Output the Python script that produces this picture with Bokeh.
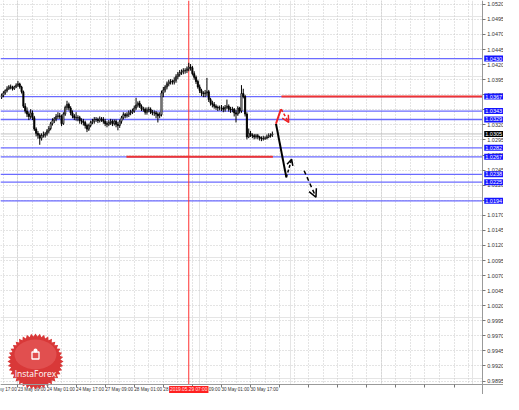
import numpy as np
from bokeh.plotting import figure
from bokeh.models import (FixedTicker, Label, Arrow, OpenHead, ColumnDataSource, Range1d,
                          LinearAxis, Grid)
from bokeh.core.properties import value
from bokeh.embed import file_html
from bokeh.resources import INLINE

# ---- data (EUR/USD H1, hours counted in trading hours from 23 May 09:00) ----
hours = list(range(-9, 141))
first_open = 1.0366
closes = [
    1.0369, 1.0373, 1.0377, 1.0380, 1.0383, 1.0383, 1.0380, 1.0383,
    1.0386, 1.0388, 1.0383, 1.0375, 1.0351, 1.0343, 1.0338, 1.0334,
    1.0340, 1.0332, 1.0313, 1.0306, 1.0303, 1.0298, 1.0302, 1.0303,
    1.0305, 1.0310, 1.0314, 1.0322, 1.0327, 1.0330, 1.0334, 1.0335,
    1.0334, 1.0322, 1.0338, 1.0349, 1.0354, 1.0348, 1.0340, 1.0335,
    1.0332, 1.0332, 1.0332, 1.0327, 1.0326, 1.0324, 1.0319, 1.0313,
    1.0319, 1.0324, 1.0326, 1.0329, 1.0329, 1.0327, 1.0330, 1.0329,
    1.0326, 1.0322, 1.0321, 1.0324, 1.0326, 1.0322, 1.0326, 1.0321,
    1.0319, 1.0326, 1.0332, 1.0337, 1.0335, 1.0337, 1.0340, 1.0341,
    1.0343, 1.0348, 1.0353, 1.0356, 1.0351, 1.0346, 1.0346, 1.0341,
    1.0345, 1.0346, 1.0341, 1.0340, 1.0340, 1.0338, 1.0335, 1.0337,
    1.0373, 1.0378, 1.0383, 1.0388, 1.0391, 1.0392, 1.0391, 1.0394,
    1.0400, 1.0404, 1.0407, 1.0408, 1.0410, 1.0410, 1.0413, 1.0416,
    1.0415, 1.0405, 1.0399, 1.0392, 1.0383, 1.0377, 1.0373, 1.0372,
    1.0373, 1.0375, 1.0362, 1.0356, 1.0354, 1.0351, 1.0349, 1.0348,
    1.0348, 1.0348, 1.0346, 1.0349, 1.0351, 1.0346, 1.0345, 1.0346,
    1.0340, 1.0338, 1.0348, 1.0343, 1.0372, 1.0367, 1.0338, 1.0300,
    1.0306, 1.0303, 1.0302, 1.0300, 1.0302, 1.0300, 1.0298, 1.0297,
    1.0298, 1.0298, 1.0300, 1.0302, 1.0303, 1.0305,
]
highs = [
    1.0372, 1.0376, 1.0379, 1.0384, 1.0386, 1.0387, 1.0385, 1.0385,
    1.0389, 1.0393, 1.0390, 1.0385, 1.0377, 1.0356, 1.0349, 1.0342,
    1.0346, 1.0344, 1.0335, 1.0316, 1.0310, 1.0306, 1.0306, 1.0309,
    1.0308, 1.0313, 1.0318, 1.0325, 1.0331, 1.0333, 1.0338, 1.0341,
    1.0340, 1.0337, 1.0341, 1.0352, 1.0360, 1.0357, 1.0351, 1.0344,
    1.0338, 1.0341, 1.0336, 1.0335, 1.0331, 1.0330, 1.0327, 1.0322,
    1.0322, 1.0327, 1.0330, 1.0333, 1.0333, 1.0332, 1.0334, 1.0333,
    1.0333, 1.0330, 1.0326, 1.0328, 1.0330, 1.0329, 1.0329, 1.0329,
    1.0325, 1.0329, 1.0335, 1.0341, 1.0340, 1.0341, 1.0344, 1.0345,
    1.0347, 1.0352, 1.0365, 1.0359, 1.0360, 1.0354, 1.0350, 1.0349,
    1.0349, 1.0350, 1.0349, 1.0345, 1.0344, 1.0343, 1.0341, 1.0341,
    1.0377, 1.0383, 1.0386, 1.0392, 1.0395, 1.0396, 1.0395, 1.0399,
    1.0404, 1.0408, 1.0411, 1.0412, 1.0414, 1.0414, 1.0417, 1.0423,
    1.0421, 1.0418, 1.0409, 1.0402, 1.0395, 1.0387, 1.0380, 1.0376,
    1.0378, 1.0398, 1.0378, 1.0365, 1.0360, 1.0358, 1.0354, 1.0352,
    1.0352, 1.0353, 1.0351, 1.0353, 1.0362, 1.0354, 1.0350, 1.0350,
    1.0348, 1.0345, 1.0351, 1.0350, 1.0386, 1.0380, 1.0370, 1.0341,
    1.0314, 1.0310, 1.0306, 1.0305, 1.0305, 1.0305, 1.0302, 1.0301,
    1.0302, 1.0301, 1.0304, 1.0306, 1.0306, 1.0309,
]
lows = [
    1.0363, 1.0366, 1.0370, 1.0374, 1.0378, 1.0379, 1.0377, 1.0378,
    1.0381, 1.0383, 1.0380, 1.0372, 1.0348, 1.0339, 1.0333, 1.0328,
    1.0330, 1.0328, 1.0310, 1.0301, 1.0297, 1.0287, 1.0294, 1.0299,
    1.0299, 1.0302, 1.0306, 1.0311, 1.0319, 1.0323, 1.0326, 1.0330,
    1.0330, 1.0318, 1.0320, 1.0335, 1.0345, 1.0344, 1.0336, 1.0331,
    1.0328, 1.0327, 1.0326, 1.0322, 1.0321, 1.0319, 1.0314, 1.0308,
    1.0310, 1.0316, 1.0321, 1.0322, 1.0325, 1.0323, 1.0324, 1.0325,
    1.0322, 1.0318, 1.0316, 1.0318, 1.0320, 1.0318, 1.0319, 1.0316,
    1.0311, 1.0315, 1.0322, 1.0329, 1.0331, 1.0332, 1.0333, 1.0336,
    1.0338, 1.0340, 1.0345, 1.0349, 1.0348, 1.0343, 1.0342, 1.0337,
    1.0337, 1.0341, 1.0338, 1.0336, 1.0335, 1.0331, 1.0324, 1.0331,
    1.0334, 1.0366, 1.0374, 1.0379, 1.0384, 1.0387, 1.0387, 1.0387,
    1.0390, 1.0396, 1.0400, 1.0403, 1.0404, 1.0405, 1.0406, 1.0409,
    1.0410, 1.0402, 1.0395, 1.0388, 1.0380, 1.0373, 1.0368, 1.0366,
    1.0366, 1.0368, 1.0358, 1.0352, 1.0349, 1.0347, 1.0345, 1.0343,
    1.0344, 1.0343, 1.0341, 1.0342, 1.0346, 1.0342, 1.0340, 1.0341,
    1.0334, 1.0324, 1.0335, 1.0339, 1.0340, 1.0364, 1.0334, 1.0296,
    1.0298, 1.0300, 1.0298, 1.0296, 1.0297, 1.0296, 1.0294, 1.0293,
    1.0294, 1.0295, 1.0296, 1.0298, 1.0299, 1.0300,
]
opens = [first_open] + closes[:-1]

price_ticks = [1.0520, 1.0495, 1.0470, 1.0445, 1.0420, 1.0395, 1.0370, 1.0345,
               1.0320, 1.0295, 1.0270, 1.0245, 1.0220, 1.0195, 1.0170, 1.0145,
               1.0120, 1.0095, 1.0070, 1.0045, 1.0020, 0.9995, 0.9970, 0.9945,
               0.9920, 0.9895]
time_ticks = [0, 16, 32, 48, 64, 80, 96, 112, 128, 144, 160, 176, 192, 208, 224, 240]
label_times = [-16, 0, 16, 32, 48, 64, 80, 96, 112, 128]
time_labels = ["22 May 17:00", "23 May 09:00", "24 May 01:00", "24 May 17:00",
               "27 May 09:00", "28 May 01:00", "28 May 17:00", "29 May 09:00",
               "30 May 01:00", "30 May 17:00"]
grid_times = [-8, 0, 8, 16, 24, 32, 40, 48, 56, 64, 72, 80, 88, 96, 104, 112, 120,
              128, 136, 144, 152, 160, 168, 176, 184, 192, 200, 208, 216, 224, 232,
              240, 248]

blue_levels = [1.0430, 1.0367, 1.0343, 1.0329, 1.0282, 1.0267, 1.0238, 1.0225, 1.0194]
current_price = 1.0305
vline_time = 94
vline_text = "2019.05.29 07:00"

red_seg_t0 = [145.0, 59.7]
red_seg_t1 = [255.5, 140.3]
red_seg_p = [1.0367, 1.0267]

black_path_t = [142.0, 147.7]
black_path_p = [1.0322, 1.0233]
black_up = (147.7, 1.0233, 150.6, 1.0263)
black_down = (157.5, 1.0244, 164.0, 1.0200)
red_up_t = [142.0, 144.7]
red_up_p = [1.0322, 1.0346]
red_down = (144.9, 1.0346, 149.0, 1.0324)

# chart window: price scale edge at X1, time scale edge at Y0
X0, X1, XF = -9.6, 255.5, 267.2
Y0, Y1, YB = 0.98886, 1.05264, 0.98727
W, H = 503, 394
ux = (XF - X0) / W
uy = (Y1 - YB) / H

p = figure(width=W, height=H, output_backend="svg", toolbar_location=None,
           x_range=Range1d(X0, XF), y_range=Range1d(YB, Y1),
           x_axis_location=None, y_axis_location=None, min_border=0)
p.outline_line_color = None
p.background_fill_color = "white"

# grid
xg = Grid(dimension=0, ticker=FixedTicker(ticks=grid_times))
yg = Grid(dimension=1, ticker=FixedTicker(ticks=price_ticks))
for g in (xg, yg):
    g.grid_line_color = "#c8c8c8"
    g.grid_line_dash = "1 2"
    g.grid_line_width = 1
    p.add_layout(g)

# blank scale areas
p.quad(left=[X1, X0], right=[XF, XF], bottom=[YB, YB], top=[Y1, Y0],
       fill_color="white", line_color=None)

# axes
yax = LinearAxis(fixed_location=X1, ticker=FixedTicker(ticks=price_ticks),
                 major_label_overrides={t: f"{t:.4f}" for t in price_ticks})
yax.major_label_text_font = "Liberation Sans"
yax.major_label_text_font_size = "5.5px"
yax.major_label_text_color = "#333333"
yax.major_tick_out = 3
yax.major_tick_in = 0
yax.minor_tick_out = 0
yax.minor_tick_in = 0
yax.major_label_standoff = 2
yax.axis_line_color = "#9a9a9a"
yax.major_tick_line_color = "#777777"
p.add_layout(yax, "right")

xax = LinearAxis(fixed_location=Y0, ticker=FixedTicker(ticks=time_ticks),
                 major_label_overrides={t: "" for t in time_ticks})
xax.major_tick_out = 3
xax.major_tick_in = 0
xax.minor_tick_out = 0
xax.minor_tick_in = 0
xax.axis_line_color = "#9a9a9a"
xax.major_tick_line_color = "#777777"
p.add_layout(xax, "below")

p.text(x=label_times, y=[Y0 - 2 * uy] * len(label_times), text=time_labels,
       text_align="left", text_baseline="top", text_font=value("Liberation Sans"),
       text_font_size="4.6px", text_color="#333333")

# logo (decoration)
cx = X0 + 35 * ux
cy = Y1 - 361 * uy
ang = np.linspace(0, 2 * np.pi, 81)[:-1]
rad = np.where(np.arange(80) % 2 == 0, 28.0, 25.0)
p.patch(cx + rad * np.cos(ang) * ux, cy + rad * np.sin(ang) * uy,
        fill_color="#d93838", line_color=None)
p.ellipse(x=[cx], y=[cy + 7 * uy], width=42 * ux, height=30 * uy,
          fill_color="#f07a7a", fill_alpha=0.35, line_color=None)
p.text(x=[cx], y=[cy - 12 * uy], text=["InstaForex"], text_align="center",
       text_baseline="middle", text_color="white", text_font_size="8.5px",
       text_font=value("Open Sans"))
p.scatter(x=[cx], y=[cy + 6 * uy], marker="square", size=7, fill_color=None,
          line_color="white", line_width=1.3)
p.scatter(x=[cx], y=[cy + 11 * uy], marker="circle", size=4, fill_color="white",
          line_color=None)

# horizontal levels
n = len(blue_levels)
p.segment(x0=[X0], y0=[current_price], x1=[X1], y1=[current_price],
          line_color="#c0c0c0", line_width=1)
p.segment(x0=[X0] * n, y0=blue_levels, x1=[X1] * n, y1=blue_levels,
          line_color="#6b6bff", line_width=1.3)
p.segment(x0=red_seg_t0, y0=red_seg_p, x1=red_seg_t1, y1=red_seg_p,
          line_color="#ee3333", line_width=2)
p.segment(x0=[vline_time], y0=[Y0], x1=[vline_time], y1=[Y1],
          line_color="#ff3030", line_width=1)

# candles
inc = [c >= o for o, c in zip(opens, closes)]
src = ColumnDataSource(dict(t=hours, o=opens, h=highs, l=lows, c=closes,
                            top=[max(a, b) for a, b in zip(opens, closes)],
                            bot=[min(a, b) for a, b in zip(opens, closes)],
                            fill=["white" if i else "black" for i in inc]))
p.segment(x0="t", y0="l", x1="t", y1="h", source=src, line_color="black", line_width=1)
p.vbar(x="t", top="top", bottom="bot", width=0.65, source=src, fill_color="fill",
       line_color="black", line_width=0.8)

# forecast drawings
p.line(black_path_t, black_path_p, line_color="black", line_width=2)
p.add_layout(Arrow(end=OpenHead(size=6, line_color="black", line_width=1.5),
                   x_start=black_up[0], y_start=black_up[1], x_end=black_up[2], y_end=black_up[3],
                   line_color="black", line_width=1.5, line_dash="3 2"))
p.add_layout(Arrow(end=OpenHead(size=8, line_color="black", line_width=1.5),
                   x_start=black_down[0], y_start=black_down[1], x_end=black_down[2],
                   y_end=black_down[3], line_color="black", line_width=1.5, line_dash="4 3"))
p.line(red_up_t, red_up_p, line_color="#ee2222", line_width=2)
p.add_layout(Arrow(end=OpenHead(size=7, line_color="#ee2222", line_width=1.5),
                   x_start=red_down[0], y_start=red_down[1], x_end=red_down[2], y_end=red_down[3],
                   line_color="#ee2222", line_width=1.5, line_dash="3 2"))

# price labels on the right scale
for lev in blue_levels:
    p.add_layout(Label(x=X1, y=lev, x_offset=2, text=f"{lev:.4f}", text_font_size="5.5px",
                       text_font="Liberation Sans", text_color="white",
                       text_baseline="middle", text_align="left",
                       background_fill_color="#1414ff", padding=1))
p.add_layout(Label(x=X1, y=current_price, x_offset=2, text=f"{current_price:.4f}",
                   text_font_size="5.5px", text_font="Liberation Sans",
                   text_color="white", text_baseline="middle", text_align="left",
                   background_fill_color="black", padding=1))
p.add_layout(Label(x=vline_time, y=Y0, y_offset=-1, text=vline_text, text_font_size="4.8px",
                   text_font="Liberation Sans", text_color="#ffe6e6",
                   text_baseline="top", text_align="center",
                   background_fill_color="#ff2020", padding=1))

open("out.html", "w").write(file_html(p, INLINE))
